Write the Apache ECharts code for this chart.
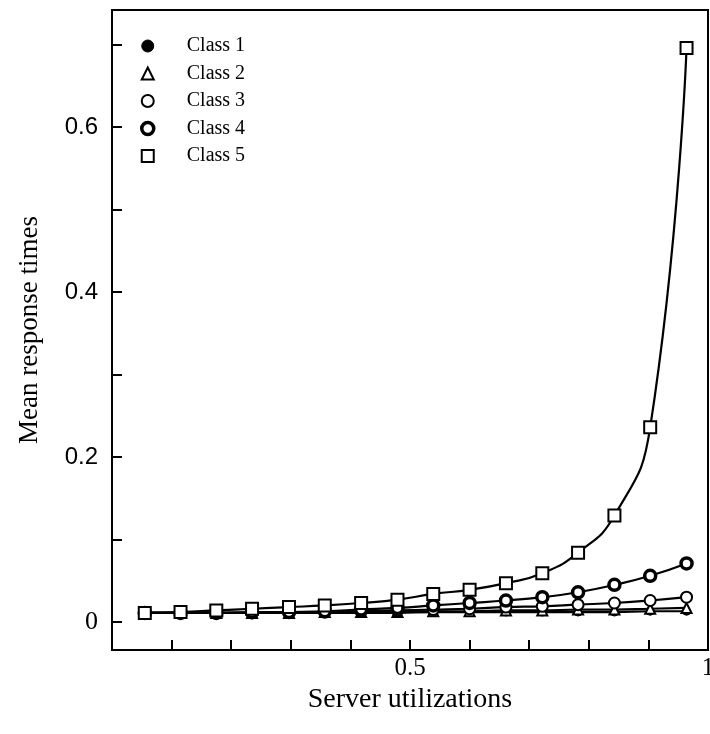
<!DOCTYPE html>
<html>
<head>
<meta charset="utf-8">
<script src="https://cdn.jsdelivr.net/npm/echarts@6/dist/echarts.min.js"></script>
<style>html,body{margin:0;padding:0;background:#fff;}#c{width:710px;height:734px;}</style>
</head>
<body>
<div id="c"></div>
<script>
const utilizations = [0.055,0.115,0.175,0.235,0.297,0.357,0.418,0.479,0.539,0.600,0.661,0.722,0.782,0.843,0.903,0.964];
const class1 = [0.011,0.011,0.011,0.011,0.011,0.011,0.011,0.011,0.012,0.012,0.012,0.012,0.012,0.012,0.013,0.013];
const class2 = [0.011,0.011,0.011,0.011,0.011,0.012,0.012,0.012,0.013,0.013,0.014,0.014,0.015,0.015,0.016,0.017];
const class3 = [0.011,0.011,0.011,0.011,0.012,0.012,0.013,0.014,0.015,0.016,0.018,0.019,0.021,0.023,0.026,0.030];
const class4 = [0.011,0.011,0.011,0.012,0.012,0.013,0.015,0.017,0.020,0.023,0.026,0.030,0.036,0.045,0.056,0.071];
const class5 = [0.011,0.012,0.014,0.016,0.018,0.020,0.023,0.027,0.034,0.039,0.047,0.059,0.084,0.129,0.236,0.696];
const classNames = ['Class 1','Class 2','Class 3','Class 4','Class 5'];
const xTicks = [0.1,0.2,0.3,0.4,0.5,0.6,0.7,0.8,0.9,1];
const xLabels = [0.5,1];
const yTicks = [0,0.1,0.2,0.3,0.4,0.5,0.6,0.7];
const yLabels = [0,0.2,0.4,0.6];

const serif = '"Liberation Serif","DejaVu Serif",serif';
const sans = '"Liberation Sans","DejaVu Sans",sans-serif';
const seriesData = [class1,class2,class3,class4,class5];
const symbols = [
  {symbol:'circle', size:8, style:{color:'#000',borderColor:'#000',borderWidth:1}},
  {symbol:'triangle', size:10, style:{color:'#fff',borderColor:'#000',borderWidth:2}},
  {symbol:'circle', size:11, style:{color:'#fff',borderColor:'#000',borderWidth:2}},
  {symbol:'circle', size:11, style:{color:'#fff',borderColor:'#000',borderWidth:3.5}},
  {symbol:'rect', size:12, style:{color:'#fff',borderColor:'#000',borderWidth:2}}
];

const chart = echarts.init(document.getElementById('c'), null, {renderer:'canvas'});
chart.setOption({
  animation:false,
  backgroundColor:'#fff',
  grid:{left:112,top:10,right:2,bottom:84,show:true,borderColor:'#000',borderWidth:2,
        backgroundColor:'transparent',containLabel:false,outerBoundsMode:'none'},
  legend:{
    orient:'vertical', left:135, top:31, itemGap:7.5, itemWidth:12, itemHeight:12,
    textStyle:{fontFamily:serif,fontSize:20,color:'#000',padding:[0,0,0,28]},
    data: classNames.map((n,i)=>({name:n, icon:symbols[i].symbol, itemStyle:symbols[i].style}))
  },
  xAxis:{
    type:'value', min:0, max:1,
    name:'Server utilizations', nameLocation:'middle', nameGap:22,
    nameTextStyle:{fontFamily:serif,fontSize:28,color:'#000'},
    axisLine:{show:true,onZero:false,lineStyle:{color:'#000',width:2}},
    axisTick:{show:true,inside:true,length:10,lineStyle:{color:'#000',width:2},customValues:xTicks},
    axisLabel:{show:true,fontFamily:serif,fontSize:25,color:'#000',margin:6,customValues:xLabels,
      formatter:v=>String(+v.toFixed(1))},
    splitLine:{show:false}
  },
  yAxis:{
    type:'value', min:-0.034, max:0.742,
    name:'Mean response times', nameLocation:'middle', nameGap:69,
    nameTextStyle:{fontFamily:serif,fontSize:27,color:'#000'},
    axisLine:{show:true,onZero:false,lineStyle:{color:'#000',width:2}},
    axisTick:{show:true,inside:true,length:10,lineStyle:{color:'#000',width:2},customValues:yTicks},
    axisLabel:{show:true,fontFamily:sans,fontSize:24,color:'#000',margin:14,customValues:yLabels,
      formatter:v=>{const s=String(+v.toFixed(1)); return s==='0'?'{z|0}':s;},
      rich:{z:{fontFamily:serif,fontSize:26,color:'#000'}}},
    splitLine:{show:false}
  },
  series: seriesData.map((arr,i)=>({
    name:classNames[i], type:'line', smooth:true,
    data: utilizations.map((x,j)=>[x,arr[j]]),
    symbol:symbols[i].symbol, symbolSize:symbols[i].size,
    itemStyle:symbols[i].style,
    lineStyle:{color:'#000',width:2.2},
    z: 2+i
  }))
});
</script>
</body>
</html>
